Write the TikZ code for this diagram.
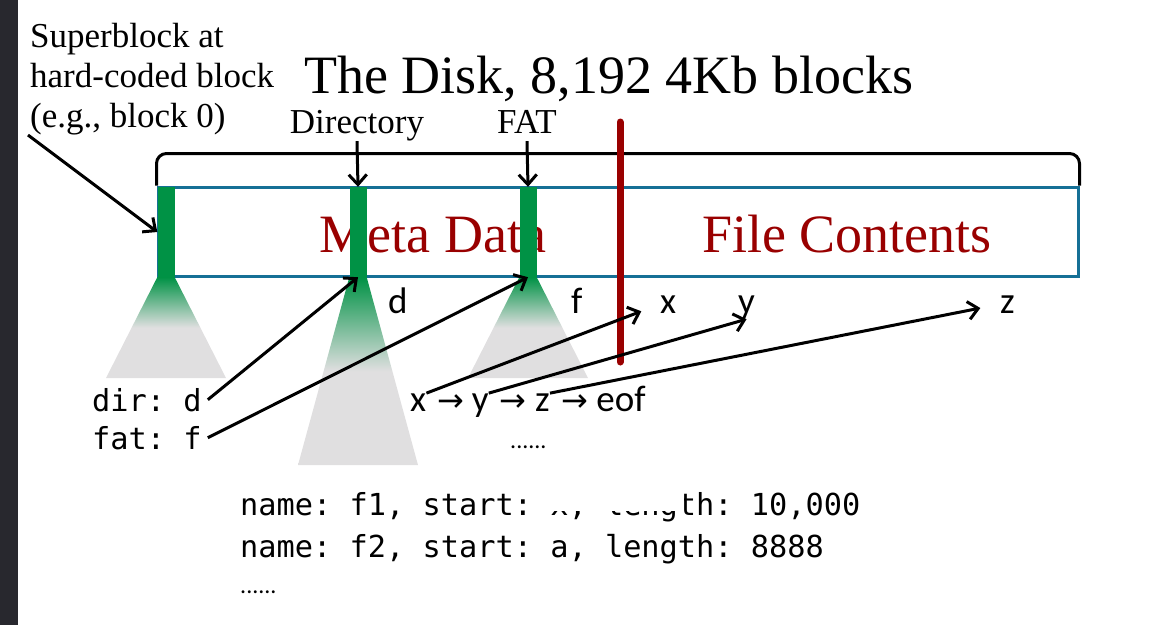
\documentclass[tikz,border=0pt]{standalone}
\usepackage{fontspec}
\setmainfont{Liberation Serif}
\newfontfamily\calib{Carlito}
\newfontfamily\cons{DejaVu Sans Mono}
\newfontfamily\arrowfont{DejaVu Sans}
\usetikzlibrary{positioning, arrows.meta}
\definecolor{stripgray}{RGB}{40, 40, 46}
\definecolor{diskblue}{RGB}{21, 112, 150}
\definecolor{diskgreen}{RGB}{0, 146, 69}
\definecolor{conegray}{RGB}{224, 223, 224}
\definecolor{metared}{RGB}{153, 0, 0}
\pgfdeclareverticalshading{conefade}{100bp}{color(0bp)=(conegray); color(50bp)=(conegray); color(75bp)=(diskgreen); color(100bp)=(diskgreen)}

\begin{document}
\begin{tikzpicture}[x=1pt, y=-1pt,
    serif/.style={inner sep=0pt, font=\fontsize{35}{40}\selectfont},
    bigtitle/.style={inner sep=0pt, font=\fontsize{54}{60}\selectfont},
    region/.style={inner sep=0pt, text=metared, font=\fontsize{54}{60}\selectfont},
    lbl/.style={inner sep=0pt, font=\calib\fontsize{37}{42}\selectfont},
    chainarrow/.style={inner sep=0pt, font=\arrowfont\fontsize{32}{36}\selectfont},
    dotted lbl/.style={inner sep=0pt, font=\calib\fontsize{24}{28}\selectfont},
    codetxt/.style={inner sep=6pt, font=\cons\fontsize{30.3}{38}\selectfont\frenchspacing},
    diskbox/.style={draw=diskblue, line width=3pt, minimum width=920pt, minimum height=89pt, inner sep=0pt},
    blockbar/.style={fill=diskgreen, minimum width=17pt, minimum height=90pt, inner sep=0pt},
    cone/.style={shading=conefade},
    arrow/.style={-{Straight Barb[length=10pt, width=18pt]}, line width=3pt},
    bracket/.style={line width=3pt, rounded corners=10pt},
    divider/.style={draw=metared, line width=7pt, line cap=round}
]
\useasboundingbox (0,0) rectangle (1152,625);
\fill[stripgray] (0,0) rectangle (18,625);

% Headings
\node[serif, anchor=north west, align=left] (sbtext) at (30,23) {Superblock at\\hard-coded block\\(e.g., block 0)};
\node[bigtitle, anchor=base west] (title) at (304,93) {The Disk, 8,192 4Kb blocks};
\node[serif, anchor=base, text depth=8pt] (dirlbl) at (357,133) {Directory};
\node[serif, anchor=base, text depth=8pt] (fatlbl) at (527,133) {FAT};
\coordinate (sbfoot) at (28,135);

% The disk
\node[diskbox] (disk) at (618,231.5) {};
\draw[bracket] (disk.north west) -- ++(0,-32) -| (disk.north east);
\node[region, anchor=base] (meta) at (433,252) {Meta Data};
\node[region, anchor=base] (contents) at (847,252) {File Contents};

% Blocks and their cones
\node[blockbar] (sbbar) at (166,232) {};
\node[blockbar] (dirbar) at (358,232) {};
\node[blockbar] (fatbar) at (528,232) {};
\shade[cone] (sbbar.south west) -- (sbbar.south east) -- (226,378) -- (106,378) -- cycle;
\shade[cone] (dirbar.south west) -- (dirbar.south east) -- (418,465) -- (298,465) -- cycle;
\shade[cone] (fatbar.south west) -- (fatbar.south east) -- (588,378) -- (468,378) -- cycle;

\draw[divider] (620,122) -- (620,362);

% Block labels
\node[lbl, anchor=base west] (ld) at (388,313) {d};
\node[lbl, anchor=base west] (lf) at (571,313) {f};
\node[lbl, anchor=base west] (lx) at (660,313) {x};
\node[lbl, anchor=base west] (ly) at (738,313) {y};
\node[lbl, anchor=base west] (lz) at (1000,313) {z};

% Superblock contents
\node[codetxt, anchor=base west] (dirl) at (86,411) {dir: d};
\node[codetxt, anchor=base west] (fatl) at (86,449) {fat: f};

% FAT chain
\node[lbl, anchor=base west] (cx) at (410,411) {x};
\node[chainarrow, base right=11pt of cx] (to1) {→};
\node[lbl, base right=7pt of to1] (cy) {y};
\node[chainarrow, base right=11pt of cy] (to2) {→};
\node[lbl, base right=8pt of to2] (cz) {z};
\node[chainarrow, base right=11pt of cz] (to3) {→};
\node[lbl, base right=8pt of to3] (eof) {eof};
\node[dotted lbl, anchor=base west] (chaindots) at (510,448) {......};

% Directory entries
\node[codetxt, anchor=base west] (f1) at (234,515) {name: f1, start: x, length: 10,000};
\fill[white] (545,484) rectangle (684,511);
\node[codetxt, anchor=base west] (f2) at (234,557) {name: f2, start: a, length: 8888};
\node[dotted lbl, anchor=base west] (moredots) at (240,593) {......};

% Arrows
\draw[arrow] (sbfoot) -- (sbbar.west);
\draw[arrow] (dirlbl.south) -- (dirbar.north);
\draw[arrow] (fatlbl.south) -- (fatbar.north);
\draw[arrow] (dirl.east) -- (dirbar.south);
\draw[arrow] (fatl.east) -- (fatbar.south);
\draw[arrow, shorten >=20pt] (cx.north east) -- (lx.west);
\draw[arrow] (cy.north east) -- (ly.south);
\draw[arrow, shorten >=20pt] (cz.north east) -- (lz.west);

\end{tikzpicture}
\end{document}
